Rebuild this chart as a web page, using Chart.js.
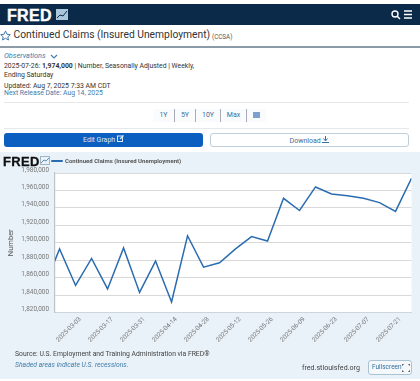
<!DOCTYPE html>
<html><head><meta charset="utf-8">
<script src="https://cdn.jsdelivr.net/npm/chart.js@4/dist/chart.umd.js"></script>
<style>
html,body{margin:0;padding:0;background:#fff;width:420px;height:381px;overflow:hidden;font-family:Roboto,sans-serif;color:#333}
.a{position:absolute;white-space:nowrap;line-height:1}
#nav{left:0;top:4px;width:420px;height:21px;background:#0b2949}
#sec{left:0;top:152px;width:420px;height:227px;background:#e9f2f9}
.hr{left:4px;width:405px;height:1px;background:#e6e9ec}
.rb{top:109px;height:13px;line-height:13px;text-align:center;font-size:7px;color:#3a6f9a;background:#fafbfc;border-right:1px solid #aab}
.btn{top:133px;width:199px;height:14px;line-height:14px;text-align:center;font-size:7px;border-radius:3px;box-sizing:border-box}
canvas{position:absolute;left:0;top:152px}
</style></head><body>
<div class="a" id="nav"></div>
<div class="a" style="left:7px;top:7.5px;font:bold 16px/1 'Liberation Sans';color:#fff;letter-spacing:.3px;-webkit-text-stroke:.4px #fff">FRED</div>
<svg class="a" style="left:56px;top:9px" width="13" height="12"><rect width="12" height="11" fill="#a9c6dc"/><path d="M1 9 L4 6 L7 7 L11 2" stroke="#0b2949" fill="none"/></svg>
<svg class="a" style="left:390px;top:9px" width="26" height="11"><circle cx="5" cy="5" r="3" stroke="#fff" stroke-width="1.4" fill="none"/><path d="M7 7 L10 10" stroke="#fff" stroke-width="1.5"/><path d="M14 2H22M14 5.5H22M14 9H22" stroke="#fff" stroke-width="1.5"/></svg>

<svg class="a" style="left:0;top:30px" width="11" height="11"><path d="M5.5 1 L7 4.3 L10.3 4.6 L7.8 6.9 L8.5 10 L5.5 8.3 L2.5 10 L3.2 6.9 L.7 4.6 L4 4.3Z" fill="none" stroke="#3f7ca8"/></svg>
<div class="a" style="left:13.5px;top:30px;font-size:10.3px;color:#333">Continued Claims (Insured Unemployment)</div>
<div class="a" style="left:212px;top:33.5px;font-size:6.3px;color:#555">(CCSA)</div>
<div class="a" style="left:0;top:46px;width:420px;height:2px;background:#8b9ba8"></div>
<div class="a" style="left:4px;top:52px;font-size:7.3px;font-style:italic;color:#3f7ca8">Observations</div>
<svg class="a" style="left:50px;top:54px" width="8" height="6"><path d="M1 1 L4 4 L7 1" stroke="#3f7ca8" stroke-width="1.1" fill="none"/></svg>
<div class="a" style="left:4px;top:63px;font-size:6.85px">2025-07-26: <b>1,974,000</b> | Number, Seasonally Adjusted | Weekly,</div>
<div class="a" style="left:4px;top:72px;font-size:6.85px">Ending Saturday</div>
<div class="a" style="left:4px;top:83px;font-size:6.85px">Updated: Aug 7, 2025 7:33 AM CDT</div>
<div class="a" style="left:4px;top:90px;font-size:6.85px;color:#3f7ca8">Next Release Date: Aug 14, 2025</div>
<div class="a hr" style="top:102px"></div>
<div class="a rb" style="left:153px;width:21px">1Y</div>
<div class="a rb" style="left:175px;width:20px">5Y</div>
<div class="a rb" style="left:196px;width:24px">10Y</div>
<div class="a rb" style="left:221px;width:25px">Max</div>
<div class="a rb" style="left:247px;width:19px;border:0"><svg width="7" height="7" style="vertical-align:-1px"><rect y="1" width="7" height="6" fill="#7f9fd0"/></svg></div>
<div class="a hr" style="top:128px"></div>
<div class="a btn" style="left:4px;background:#0a5fc0;color:#dce9f7">Edit Graph <svg width="7" height="7"><rect x=".5" y="1" width="5" height="5.5" fill="none" stroke="#dce9f7"/><path d="M3 4 L6.5 .5" stroke="#dce9f7" stroke-width="1.3"/></svg></div>
<div class="a btn" style="left:210px;background:#fff;color:#3a6f9a;border:1px solid #bfd0dc">Download <svg width="7" height="7"><path d="M3.5 0V4M1.5 2.5L3.5 5L5.5 2.5M0 6.5H7" stroke="#3a6f9a" fill="none"/></svg></div>

<div class="a" id="sec"></div>
<canvas id="c" width="420" height="227" style="width:420px;height:227px"></canvas>
<div class="a" style="left:3px;top:155px;font:bold 13px/1 'Liberation Sans';color:#111;letter-spacing:.3px;-webkit-text-stroke:.3px #111">FRED</div>
<svg class="a" style="left:40px;top:156px" width="10" height="9"><rect x=".5" y=".5" width="9" height="8" fill="#e9f2f9" stroke="#9fb4c4"/><path d="M1 7 L4 4 L6 5 L9 2" stroke="#5f8fb4" fill="none"/></svg>
<div class="a" style="left:15px;top:351px;font-size:6.8px;color:#444">Source: U.S. Employment and Training Administration via FRED®</div>
<div class="a" style="left:15px;top:361.5px;font-size:6.8px;font-style:italic;color:#3f7ca8">Shaded areas indicate U.S. recessions.</div>
<div class="a" style="left:302px;top:364px;font-size:7.1px;color:#444">fred.stlouisfed.org</div>
<div class="a" style="left:368px;top:360px;width:44px;height:15px;box-sizing:border-box;border:1px solid #a9c2d4;border-radius:3px;background:#f4f8fb;font-size:6.5px;line-height:13px;color:#2f6f9e;padding-left:3px">Fullscreen</div>
<svg class="a" style="left:402px;top:364px" width="8" height="8"><path d="M0 2V0H2M6 0H8V2M8 6V8H6M2 8H0V6" stroke="#333" fill="none"/></svg>

<script>
const seriesName = "Continued Claims (Insured Unemployment)";
const dates = ["2025-02-15","2025-02-22","2025-03-01","2025-03-08","2025-03-15","2025-03-22","2025-03-29","2025-04-05","2025-04-12","2025-04-19","2025-04-26","2025-05-03","2025-05-10","2025-05-17","2025-05-24","2025-05-31","2025-06-07","2025-06-14","2025-06-21","2025-06-28","2025-07-05","2025-07-12","2025-07-19","2025-07-26"];
const values = [1847000,1893000,1851000,1882000,1847000,1894000,1843000,1879000,1832000,1908000,1872000,1877000,1893000,1907000,1902000,1951000,1937000,1964000,1956000,1954000,1951000,1946000,1936000,1974000];
const xTickLabels = ["2025-03-03","2025-03-17","2025-03-31","2025-04-14","2025-04-28","2025-05-12","2025-05-26","2025-06-09","2025-06-23","2025-07-07","2025-07-21"];
const yTicks = [1820000,1840000,1860000,1880000,1900000,1920000,1940000,1960000,1980000];
const xRange = ["2025-02-20","2025-07-26"];

const toDay = s => Date.parse(s + "T00:00:00Z") / 86400000;
const fromDay = d => new Date(d * 86400000).toISOString().slice(0, 10);
const points = dates.map((d, i) => ({x: toDay(d), y: values[i]}));
const tickFont = {family: "Roboto", size: 6.4};
const W = 420, H = 227, LEFT = 55, RIGHT = 411.5, BOTTOM = 160.5;

const plotBg = {id: "plotBg", beforeDraw(c) {
  const a = c.chartArea, g = c.ctx;
  g.save(); g.fillStyle = "#fff"; g.fillRect(a.left, a.top, a.right - a.left, a.bottom - a.top); g.restore();
}};
const legendPlace = {id: "legendPlace", afterLayout(c) {
  const w = c.legend.right - c.legend.left;
  c.legend.left = 48; c.legend.right = 48 + w; c.legend.top = 2; c.legend.bottom = 2 + 12;
}};

new Chart(document.getElementById("c"), {
  type: "line",
  data: {datasets: [{label: seriesName, data: points, borderColor: "#2b6cb0", backgroundColor: "#2b6cb0", borderWidth: 1.5, pointRadius: 0, tension: 0, borderJoinStyle: "miter", clip: true}]},
  plugins: [plotBg, legendPlace],
  options: {
    responsive: false, animation: false, devicePixelRatio: 1,
    layout: {padding: {left: 0, right: W - RIGHT, top: 1, bottom: 0}},
    plugins: {
      tooltip: {enabled: false},
      legend: {display: true, position: "top", align: "start",
        labels: {boxWidth: 10, boxHeight: 0.5, padding: 4, color: "#555", font: {family: "Roboto", size: 6, weight: "bold"}}}
    },
    scales: {
      x: {type: "linear", min: toDay(xRange[0]), max: toDay(xRange[1]),
        afterBuildTicks: s => { s.ticks = xTickLabels.map(t => ({value: toDay(t)})); },
        afterFit: s => { s.height = H - BOTTOM; },
        grid: {display: false, drawTicks: false},
        border: {color: "#cfd6db", width: 1},
        ticks: {autoSkip: false, minRotation: 45, maxRotation: 45, color: "#777", font: tickFont, padding: 3, callback: v => fromDay(v)}},
      y: {type: "linear", min: 1820000, max: 1980000,
        afterBuildTicks: s => { s.ticks = yTicks.map(v => ({value: v})); },
        afterFit: s => { s.width = LEFT; },
        grid: {color: "#d9d9d9", lineWidth: 1, drawTicks: false},
        border: {color: "#bcc4ca", width: 1.2},
        title: {display: true, text: "Number", color: "#555", font: {family: "Roboto", size: 7.5}, padding: {top: 7, bottom: 0}},
        ticks: {color: "#777", font: tickFont, padding: 6, labelOffset: -3, callback: v => v.toLocaleString("en-US")}}
    }
  }
});
</script>
</body></html>
